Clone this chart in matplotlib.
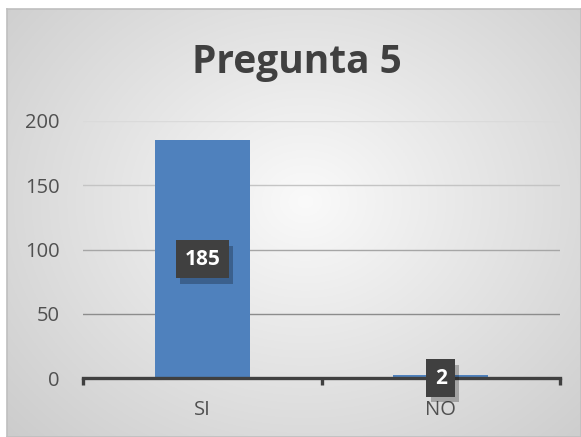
import matplotlib

matplotlib.use("Agg")
import matplotlib.pyplot as plt
import matplotlib.patheffects as pe
import numpy as np

categories = ["SI", "NO"]
values = [185, 2]
yticks = [0, 50, 100, 150, 200]

W, H = 581, 437
fig = plt.figure(figsize=(W / 100, H / 100), dpi=100, facecolor="white")

# chart area background: radial grey gradient with a thin border
x0, y0 = 7, 9
bg = fig.add_axes([x0 / W, 0, 1 - x0 / W, 1 - y0 / H])
gx, gy = np.meshgrid(np.linspace(0, 1, 300), np.linspace(0, 1, 300))
r = np.sqrt(((gx - 0.52) / 0.75) ** 2 + ((gy - 0.55) / 0.85) ** 2)
shade = np.clip(0.98 - 0.19 * r, 0, 1)
bg.imshow(np.dstack([shade] * 3), extent=[0, 1, 0, 1], aspect="auto", origin="lower")
bg.set_xlim(0, 1)
bg.set_ylim(0, 1)
bg.set_xticks([])
bg.set_yticks([])
for s in bg.spines.values():
    s.set_color("#bfbfbf")
    s.set_linewidth(1.2)

fig.text(297 / W, 1 - 62 / H, "Pregunta 5", ha="center", va="center",
         fontsize=28, fontweight="bold", color="#404040", family="Open Sans")

ax = fig.add_axes([83 / W, 1 - 378 / H, (560 - 83) / W, (378 - 121) / H])
ax.patch.set_alpha(0)
pos = np.arange(len(categories))
ax.set_xlim(-0.5, len(categories) - 0.5)
ax.set_ylim(0, 200)

grid_colors = ["#8c8c8c", "#a6a6a6", "#c4c4c4", "#dadada"]
for yv, c in zip(yticks[1:], grid_colors):
    ax.axhline(yv, color=c, lw=1.0, zorder=0)

ax.bar(pos, values, width=0.4, color="#4f81bd", zorder=2)

for s in ["top", "right", "left"]:
    ax.spines[s].set_visible(False)
ax.spines["bottom"].set_color("#404040")
ax.spines["bottom"].set_linewidth(2.4)
ax.spines["bottom"].set_zorder(3)

ax.set_yticks(yticks)
ax.set_yticklabels([str(v) for v in yticks])
ax.tick_params(axis="y", length=0, pad=17, labelsize=14.5, labelcolor="#505050")
ax.set_xticks(pos)
ax.set_xticklabels(categories)
ax.tick_params(axis="x", which="major", length=0, pad=16, labelsize=14.5, labelcolor="#505050")
ax.set_xticks(np.arange(len(categories) + 1) - 0.5, minor=True)
ax.tick_params(axis="x", which="minor", direction="out", length=5, width=2.4, color="#404040")
for lab in ax.get_xticklabels() + ax.get_yticklabels():
    lab.set_family("Open Sans")

for p, v in zip(pos, values):
    t = ax.text(p, v / 2 if v > 20 else 0, str(v), ha="center", va="center",
                fontsize=15, fontweight="bold", color="white", family="Open Sans", zorder=5,
                bbox=dict(boxstyle="square,pad=0.4", facecolor="#404040", edgecolor="none"))
    t.get_bbox_patch().set_path_effects(
        [pe.SimplePatchShadow(offset=(3, -4), shadow_rgbFace="#000000", alpha=0.25), pe.Normal()])

fig.savefig("out.png", dpi=100, facecolor="white")
